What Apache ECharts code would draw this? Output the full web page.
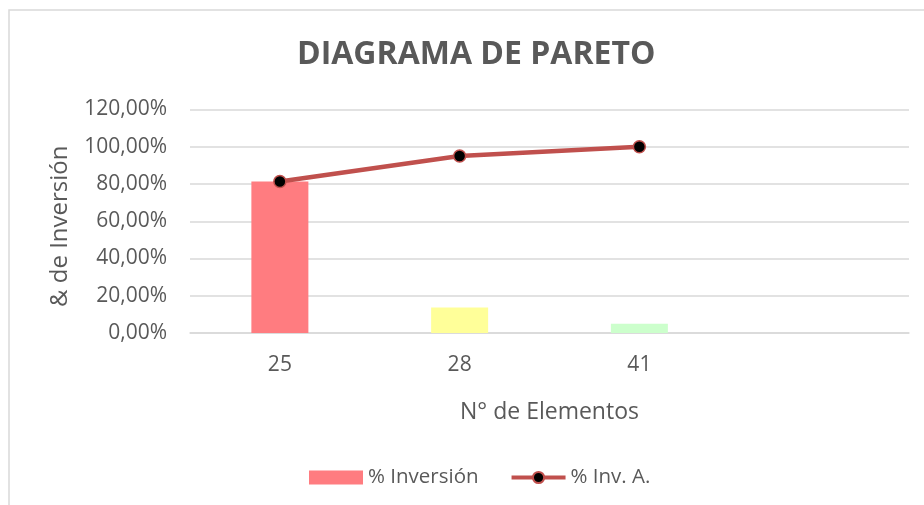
<!DOCTYPE html>
<html>
<head>
<meta charset="utf-8">
<script src="https://cdn.jsdelivr.net/npm/echarts@6/dist/echarts.min.js"></script>
<style>
html,body{margin:0;padding:0;background:#fff;}
#chart{width:924px;height:505px;}
</style>
</head>
<body>
<div id="chart"></div>
<script>
var categories = ['25', '28', '41', ''];
var pctInversion = [81.3, 13.7, 5.0, null];
var pctAcumulado = [81.3, 95.0, 100.0, null];
var barColors = ['#FF7C80', '#FFFF99', '#CCFFCC'];
var yTicks = [0, 20, 40, 60, 80, 100, 120];

var FONT = '"Open Sans", "Noto Sans", sans-serif';
var chart = echarts.init(document.getElementById('chart'));
var option = {
  backgroundColor: '#ffffff',
  animation: false,
  textStyle: { fontFamily: FONT },
  graphic: [{
    type: 'rect',
    shape: { x: 9, y: 10, width: 1000, height: 600 },
    style: { fill: 'none', stroke: '#D9D9D9', lineWidth: 1.5 },
    silent: true
  }],
  title: {
    text: 'DIAGRAMA DE PARETO',
    left: 292,
    top: 34,
    textStyle: { fontFamily: FONT, fontSize: 32, fontWeight: 'bold', color: '#595959' }
  },
  legend: {
    left: 304,
    top: 462,
    itemGap: 31,
    itemWidth: 54,
    itemHeight: 14,
    textStyle: { fontFamily: FONT, fontSize: 20.5, color: '#595959' },
    data: [
      { name: '% Inversión', icon: 'rect' },
      { name: '% Inv. A.', lineStyle: { width: 4, color: '#C0504D' } }
    ]
  },
  grid: { left: 190, right: 15, top: 109.5, bottom: 172 },
  xAxis: {
    type: 'category',
    data: categories,
    name: 'N° de Elementos',
    nameLocation: 'middle',
    nameGap: 68,
    nameTextStyle: { fontFamily: FONT, fontSize: 23, color: '#595959' },
    axisLine: { show: true, lineStyle: { color: '#D9D9D9', width: 1.5 } },
    axisTick: { show: false },
    axisLabel: { margin: 22, fontFamily: FONT, fontSize: 21, color: '#595959' }
  },
  yAxis: {
    type: 'value',
    min: yTicks[0],
    max: yTicks[yTicks.length - 1],
    interval: 20,
    name: '& de Inversión',
    nameLocation: 'middle',
    nameGap: 118,
    nameTextStyle: { fontFamily: FONT, fontSize: 24, color: '#595959', padding: [0, 10, 0, 0] },
    axisLine: { show: false },
    axisTick: { show: false },
    axisLabel: {
      margin: 23,
      fontFamily: FONT,
      fontSize: 21,
      color: '#595959',
      formatter: function (v) { return v.toFixed(2).replace('.', ',') + '%'; }
    },
    splitLine: { lineStyle: { color: '#D9D9D9', width: 1.5 } }
  },
  series: [
    {
      name: '% Inversión',
      type: 'bar',
      barWidth: 57,
      itemStyle: { color: '#FF7C80' },
      data: pctInversion.map(function (v, i) {
        return { value: v, itemStyle: { color: barColors[i] || '#FF7C80' } };
      }),
      z: 2
    },
    {
      name: '% Inv. A.',
      type: 'line',
      data: pctAcumulado,
      symbol: 'circle',
      symbolSize: 12,
      lineStyle: { color: '#C0504D', width: 4.5 },
      itemStyle: { color: '#000000', borderColor: '#C0504D', borderWidth: 1.5 },
      z: 3
    }
  ]
};
chart.setOption(option);
</script>
</body>
</html>
